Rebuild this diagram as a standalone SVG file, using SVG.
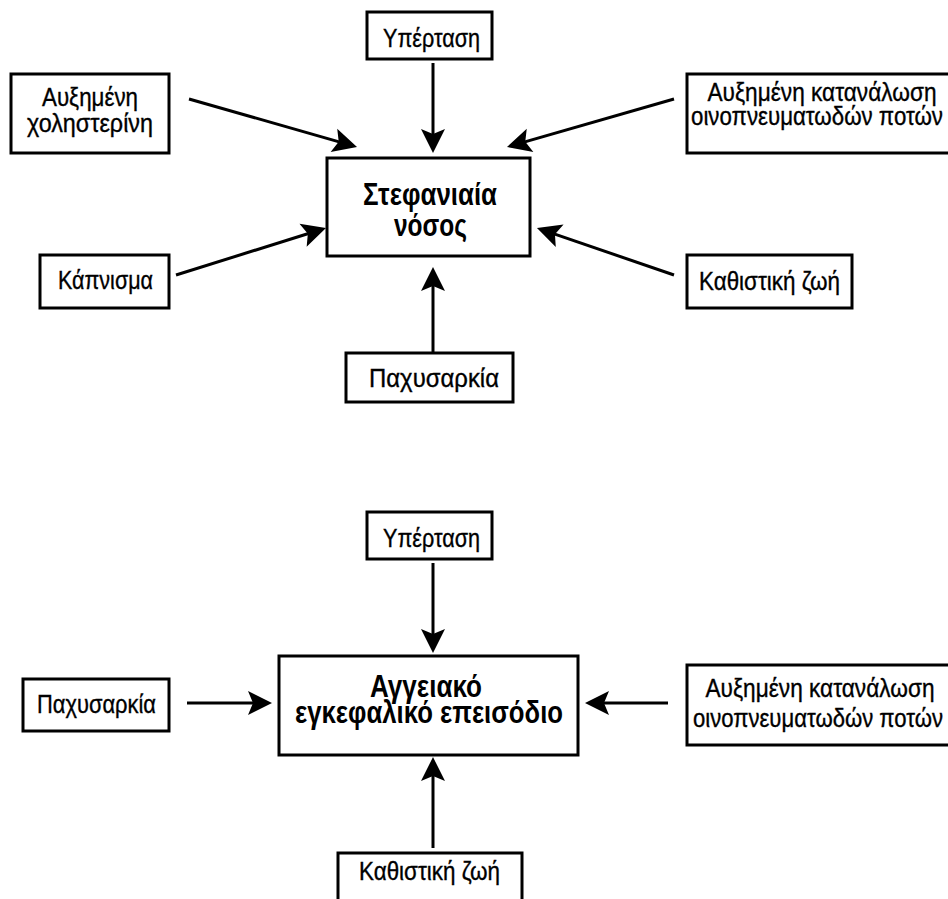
<svg xmlns="http://www.w3.org/2000/svg" width="948" height="899" viewBox="0 0 948 899">
<style>
.box{fill:#fff;stroke:#000;stroke-width:3}
.lbl{font-family:"Liberation Sans","DejaVu Sans",sans-serif;font-size:25px;fill:#000;stroke:#000;stroke-width:0.35;text-anchor:middle}
.ttl{font-family:"Liberation Sans","DejaVu Sans",sans-serif;font-size:31px;font-weight:bold;fill:#000;text-anchor:middle}
.arr{stroke:#000;stroke-width:3;fill:none;marker-end:url(#ah)}
</style>
<defs>
<marker id="ah" markerUnits="userSpaceOnUse" viewBox="-20 -13 26 26" refX="0" refY="0" markerWidth="26" markerHeight="26" orient="auto">
<path d="M5,0 L-19,-12 L-14,0 L-19,12 Z" fill="#000"/>
</marker>
</defs>
<rect width="948" height="899" fill="#fff"/>
<g id="connectors">
<line class="arr" x1="433" y1="63" x2="433" y2="148"/>
<line class="arr" x1="189" y1="99" x2="352.2" y2="145.6"/>
<line class="arr" x1="176" y1="275" x2="321.2" y2="229.5"/>
<line class="arr" x1="433" y1="353" x2="433" y2="272"/>
<line class="arr" x1="674" y1="99" x2="511.8" y2="145.6"/>
<line class="arr" x1="674" y1="275" x2="541.7" y2="229.6"/>
<line class="arr" x1="433" y1="563" x2="433" y2="648"/>
<line class="arr" x1="187" y1="703" x2="267" y2="703"/>
<line class="arr" x1="668" y1="703" x2="590" y2="703"/>
<line class="arr" x1="433" y1="848" x2="433" y2="762"/>
</g>
<g id="t-hyper">
<rect class="box" x="367" y="12" width="125" height="47"/>
<text class="lbl" x="431.5" y="47" textLength="97" lengthAdjust="spacingAndGlyphs">Υπέρταση</text>
</g>
<g id="t-chol">
<rect class="box" x="11" y="74" width="158" height="79"/>
<text class="lbl" x="90" y="106" textLength="96" lengthAdjust="spacingAndGlyphs">Αυξημένη</text>
<text class="lbl" x="90" y="132" textLength="126" lengthAdjust="spacingAndGlyphs">χοληστερίνη</text>
</g>
<g id="t-main">
<rect class="box" x="327" y="158" width="203" height="98"/>
<text class="ttl" x="430" y="205" textLength="134" lengthAdjust="spacingAndGlyphs">Στεφανιαία</text>
<text class="ttl" x="430.5" y="236" textLength="73" lengthAdjust="spacingAndGlyphs">νόσος</text>
</g>
<g id="t-smoke">
<rect class="box" x="40" y="255" width="129" height="53"/>
<text class="lbl" x="105.5" y="289" textLength="95" lengthAdjust="spacingAndGlyphs">Κάπνισμα</text>
</g>
<g id="t-obes">
<rect class="box" x="346" y="353" width="167" height="49"/>
<text class="lbl" x="434" y="387" textLength="130" lengthAdjust="spacingAndGlyphs">Παχυσαρκία</text>
</g>
<g id="t-alc">
<rect class="box" x="687" y="74" width="270" height="79"/>
<text class="lbl" x="822" y="101" textLength="229" lengthAdjust="spacingAndGlyphs">Αυξημένη κατανάλωση</text>
<text class="lbl" x="817" y="125" textLength="252" lengthAdjust="spacingAndGlyphs">οινοπνευματωδών ποτών</text>
</g>
<g id="t-sed">
<rect class="box" x="687" y="255" width="165" height="53"/>
<text class="lbl" x="769.5" y="290" textLength="141" lengthAdjust="spacingAndGlyphs">Καθιστική ζωή</text>
</g>
<g id="b-hyper">
<rect class="box" x="367" y="512" width="125" height="47"/>
<text class="lbl" x="431.5" y="547" textLength="97" lengthAdjust="spacingAndGlyphs">Υπέρταση</text>
</g>
<g id="b-main">
<rect class="box" x="279" y="656" width="299" height="99"/>
<text class="ttl" x="426" y="697" textLength="112" lengthAdjust="spacingAndGlyphs">Αγγειακό</text>
<text class="ttl" x="429" y="723" textLength="268" lengthAdjust="spacingAndGlyphs">εγκεφαλικό επεισόδιο</text>
</g>
<g id="b-obes">
<rect class="box" x="23" y="679" width="146" height="52"/>
<text class="lbl" x="96.5" y="713" textLength="119" lengthAdjust="spacingAndGlyphs">Παχυσαρκία</text>
</g>
<g id="b-alc">
<rect class="box" x="687" y="665" width="270" height="80"/>
<text class="lbl" x="820" y="697" textLength="229" lengthAdjust="spacingAndGlyphs">Αυξημένη κατανάλωση</text>
<text class="lbl" x="818" y="727" textLength="250" lengthAdjust="spacingAndGlyphs">οινοπνευματωδών ποτών</text>
</g>
<g id="b-sed">
<rect class="box" x="338" y="853" width="184" height="60"/>
<text class="lbl" x="429.5" y="880" textLength="141" lengthAdjust="spacingAndGlyphs">Καθιστική ζωή</text>
</g>
</svg>
